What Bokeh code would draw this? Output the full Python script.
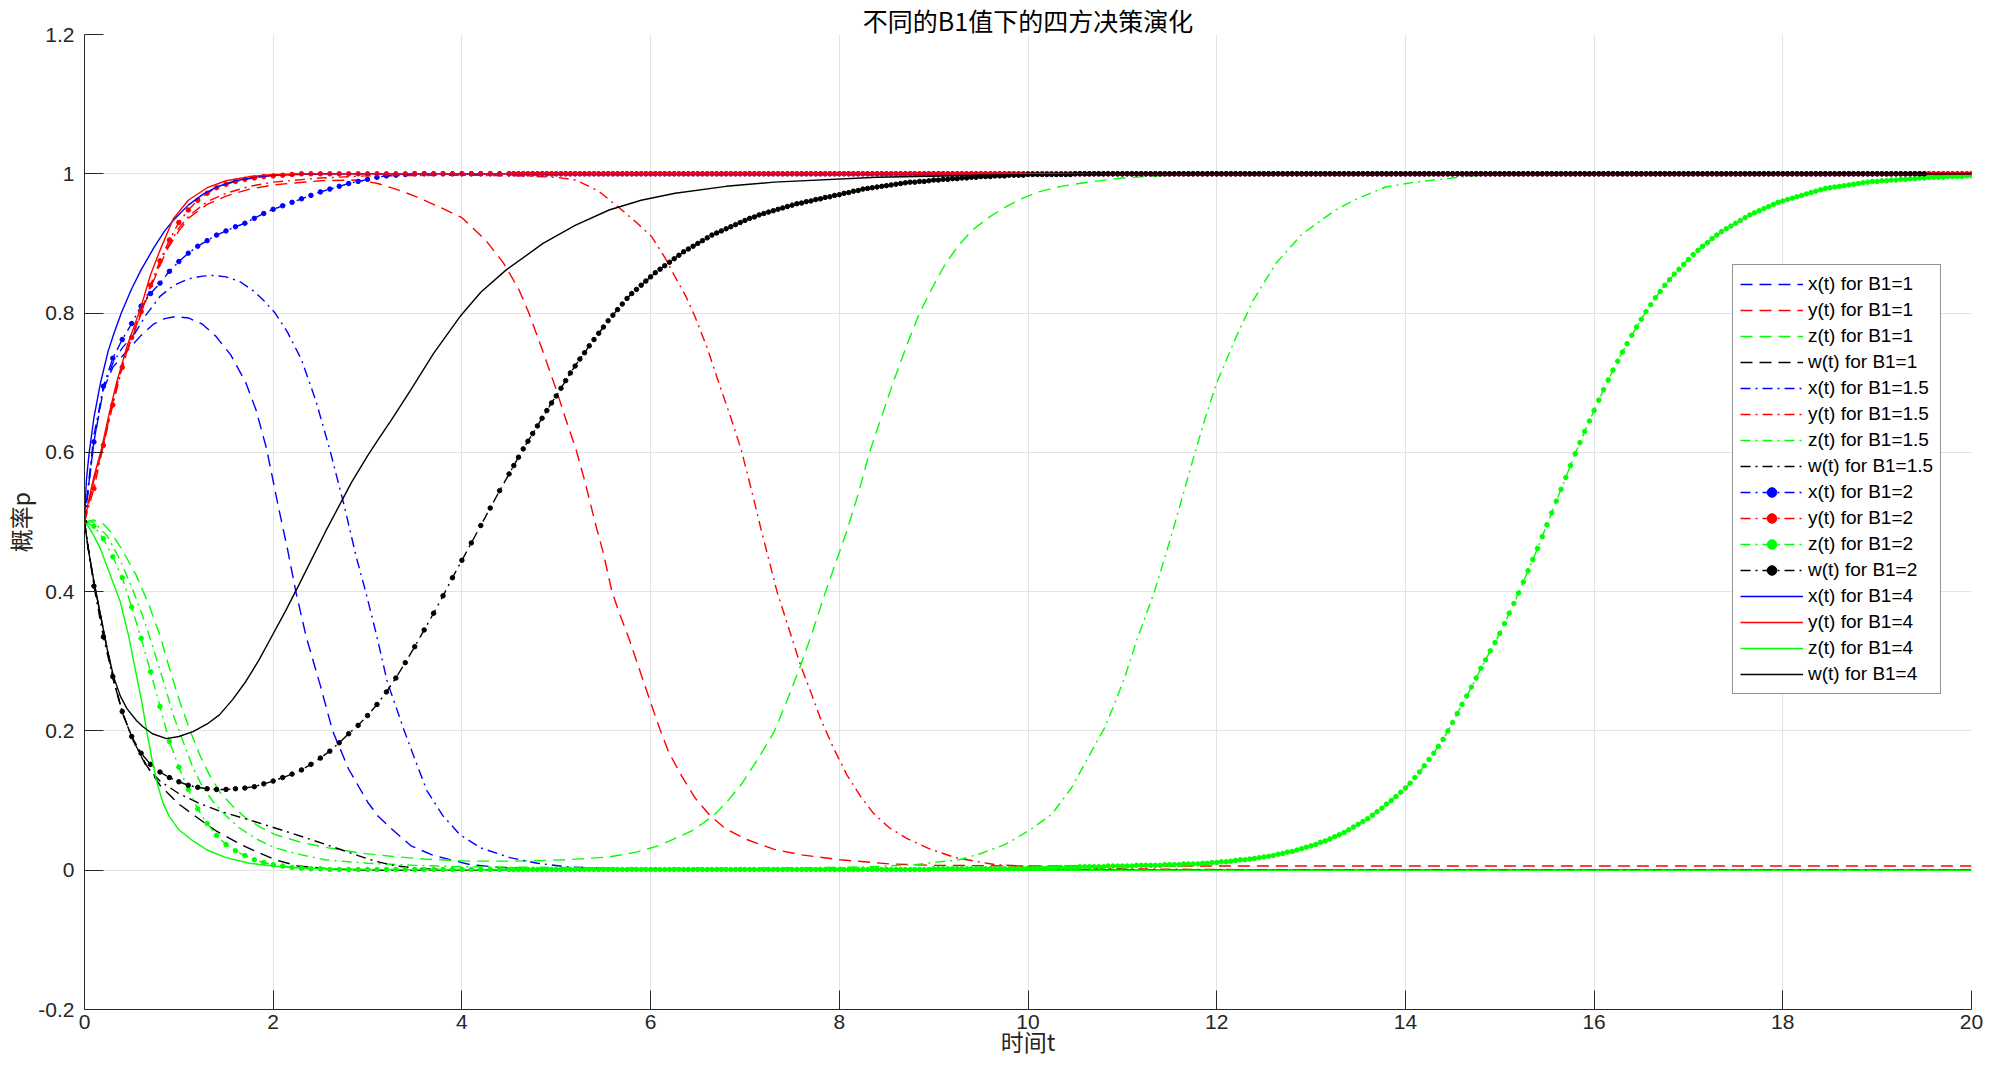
from bokeh.plotting import figure
from bokeh.models import Legend, LegendItem, FixedTicker
from bokeh.embed import file_html
from bokeh.resources import INLINE

TITLE = "不同的B1值下的四方决策演化"
XLABEL = "时间t"
YLABEL = "概率p"
X_TICKS = [0, 2, 4, 6, 8, 10, 12, 14, 16, 18, 20]
Y_TICKS = [-0.2, 0, 0.2, 0.4, 0.6, 0.8, 1.0, 1.2]
Y_TICK_LABELS = ["-0.2", "0", "0.2", "0.4", "0.6", "0.8", "1", "1.2"]

# ---------------- B1 = 1 (dashed) ----------------
T_X_B1_1 = [0, 0.05, 0.1, 0.2, 0.3, 0.4, 0.48, 0.6, 0.73, 0.85, 0.97, 1.1, 1.25, 1.39, 1.55, 1.71, 1.82, 1.93,
            2.05, 2.15, 2.24, 2.35, 2.5, 2.63, 2.8, 3.0, 3.11, 3.25, 3.46, 3.7, 3.91, 4.09, 4.4, 4.8, 5.3, 6.0, 20.0]
V_X_B1_1 = [0.5, 0.56, 0.615, 0.69, 0.722, 0.738, 0.750, 0.768, 0.784, 0.792, 0.795, 0.793, 0.784, 0.767, 0.740,
            0.700, 0.660, 0.605, 0.525, 0.462, 0.40, 0.335, 0.265, 0.20, 0.145, 0.098, 0.078, 0.060, 0.035, 0.021,
            0.014, 0.008, 0.004, 0.002, 0.001, 0.0, 0.0]

T_Y_B1_1 = [0, 0.05, 0.1, 0.18, 0.26, 0.34, 0.45, 0.59, 0.72, 0.87, 1.0, 1.11, 1.3, 1.5, 1.75, 2.0, 2.5, 2.9,
            3.11, 3.3, 3.5, 3.75, 4.0, 4.25, 4.44, 4.6, 4.71, 4.85, 5.0, 5.1, 5.21, 5.3, 5.42, 5.5, 5.59, 5.68,
            5.77, 5.89, 6.01, 6.1, 6.19, 6.33, 6.47, 6.62, 6.78, 7.0, 7.31, 7.6, 8.01, 8.53, 9.0, 10.0, 20.0]
V_Y_B1_1 = [0.5, 0.53, 0.56, 0.60, 0.648, 0.695, 0.745, 0.795, 0.843, 0.89, 0.918, 0.937, 0.956, 0.968, 0.978,
            0.984, 0.99, 0.991, 0.986, 0.978, 0.968, 0.953, 0.937, 0.905, 0.872, 0.835, 0.80, 0.748, 0.69, 0.648,
            0.604, 0.56, 0.495, 0.455, 0.40, 0.365, 0.333, 0.285, 0.237, 0.202, 0.17, 0.135, 0.104, 0.08, 0.061,
            0.045, 0.030, 0.022, 0.015, 0.009, 0.007, 0.006, 0.006]

T_Z_B1_1 = [0, 0.1, 0.2, 0.27, 0.4, 0.55, 0.68, 0.8, 0.9, 1.01, 1.12, 1.22, 1.32, 1.43, 1.57, 1.71, 1.86, 2.02,
            2.3, 2.55, 2.9, 3.25, 3.6, 4.1, 4.6, 5.1, 5.56, 5.85, 6.08, 6.25, 6.43, 6.55, 6.68, 6.82, 6.96, 7.13,
            7.31, 7.45, 7.59, 7.71, 7.83, 7.95, 8.08, 8.2, 8.32, 8.45, 8.57, 8.71, 8.85, 9.0, 9.13, 9.27, 9.41,
            9.58, 9.76, 9.93, 10.11, 10.35, 10.64, 11.0, 11.5, 12.5, 20.0]
V_Z_B1_1 = [0.5, 0.503, 0.497, 0.487, 0.46, 0.423, 0.382, 0.337, 0.29, 0.242, 0.20, 0.166, 0.138, 0.113, 0.092,
            0.075, 0.062, 0.051, 0.040, 0.033, 0.025, 0.020, 0.016, 0.013, 0.013, 0.015, 0.019, 0.026, 0.035,
            0.045, 0.056, 0.067, 0.08, 0.10, 0.123, 0.158, 0.199, 0.245, 0.294, 0.34, 0.39, 0.437, 0.487, 0.54,
            0.60, 0.652, 0.70, 0.752, 0.80, 0.84, 0.872, 0.898, 0.919, 0.937, 0.952, 0.964, 0.974, 0.982, 0.988,
            0.994, 0.998, 1.0, 1.0]

T_W_B1_1 = [0, 0.04, 0.1, 0.17, 0.24, 0.31, 0.41, 0.52, 0.66, 0.8, 1.0, 1.2, 1.4, 1.67, 1.85, 2.02, 2.26, 2.6,
            3.0, 20.0]
V_W_B1_1 = [0.5, 0.461, 0.414, 0.366, 0.318, 0.271, 0.223, 0.185, 0.150, 0.122, 0.095, 0.075, 0.056, 0.036,
            0.025, 0.015, 0.006, 0.002, 0.0, 0.0]

# ---------------- B1 = 1.5 (dash-dot) ----------------
T_X_B1_15 = [0, 0.05, 0.1, 0.2, 0.3, 0.4, 0.52, 0.65, 0.8, 0.95, 1.1, 1.25, 1.36, 1.5, 1.65, 1.8, 1.9, 2.02,
             2.15, 2.3, 2.45, 2.6, 2.75, 2.88, 2.98, 3.1, 3.21, 3.3, 3.39, 3.5, 3.63, 3.8, 3.98, 4.2, 4.51, 4.8,
             5.1, 5.6, 6.5, 10.0, 20.0]
V_X_B1_15 = [0.5, 0.565, 0.625, 0.692, 0.728, 0.750, 0.768, 0.797, 0.824, 0.840, 0.849, 0.853, 0.854, 0.852,
             0.845, 0.831, 0.818, 0.800, 0.773, 0.733, 0.675, 0.604, 0.525, 0.45, 0.40, 0.335, 0.27, 0.235, 0.20,
             0.16, 0.114, 0.078, 0.051, 0.032, 0.018, 0.010, 0.005, 0.002, 0.0, 0.0, 0.0]

T_Y_B1_15 = [0, 0.05, 0.1, 0.18, 0.26, 0.34, 0.45, 0.59, 0.72, 0.87, 1.0, 1.11, 1.3, 1.5, 1.75, 2.0, 2.5, 3.0,
             4.0, 4.6, 5.0, 5.21, 5.45, 5.66, 5.85, 6.01, 6.15, 6.26, 6.37, 6.47, 6.6, 6.71, 6.85, 6.96, 7.08,
             7.17, 7.34, 7.47, 7.59, 7.7, 7.8, 7.94, 8.08, 8.22, 8.36, 8.53, 8.71, 8.95, 9.23, 9.65, 10.2, 11.0,
             12.0, 14.0, 20.0]
V_Y_B1_15 = [0.5, 0.53, 0.56, 0.6, 0.648, 0.695, 0.746, 0.797, 0.845, 0.893, 0.922, 0.94, 0.96, 0.972, 0.982,
             0.988, 0.994, 0.997, 0.998, 0.997, 0.995, 0.991, 0.975, 0.952, 0.93, 0.91, 0.88, 0.852, 0.825, 0.795,
             0.75, 0.705, 0.65, 0.604, 0.54, 0.49, 0.40, 0.345, 0.294, 0.255, 0.218, 0.175, 0.137, 0.107, 0.082,
             0.061, 0.046, 0.031, 0.018, 0.008, 0.004, 0.002, 0.001, 0.0, 0.0]

T_Z_B1_15 = [0, 0.1, 0.24, 0.38, 0.52, 0.63, 0.73, 0.84, 0.94, 1.05, 1.15, 1.25, 1.36, 1.5, 1.64, 1.82, 2.02,
             2.3, 2.55, 3.0, 3.5, 4.0, 5.0, 6.0, 7.0, 8.0, 8.36, 8.8, 9.27, 9.5, 9.76, 10.0, 10.25, 10.46, 10.67,
             10.81, 10.92, 11.02, 11.16, 11.34, 11.51, 11.63, 11.76, 11.88, 12.0, 12.21, 12.39, 12.63, 12.91,
             13.26, 13.5, 13.79, 14.1, 14.7, 15.5, 20.0]
V_Z_B1_15 = [0.5, 0.5, 0.48, 0.445, 0.40, 0.36, 0.318, 0.27, 0.223, 0.183, 0.147, 0.12, 0.099, 0.078, 0.061,
             0.045, 0.032, 0.022, 0.015, 0.010, 0.007, 0.005, 0.004, 0.003, 0.003, 0.004, 0.005, 0.008, 0.015,
             0.024, 0.037, 0.056, 0.08, 0.118, 0.17, 0.204, 0.24, 0.275, 0.333, 0.40, 0.476, 0.533, 0.595, 0.65,
             0.70, 0.767, 0.819, 0.872, 0.914, 0.948, 0.965, 0.981, 0.988, 0.997, 1.0, 1.0]

T_W_B1_15 = [0, 0.04, 0.1, 0.17, 0.24, 0.31, 0.41, 0.52, 0.66, 0.8, 1.0, 1.2, 1.43, 1.8, 2.2, 2.6, 2.9, 3.08,
             3.3, 3.6, 4.0, 20.0]
V_W_B1_15 = [0.5, 0.461, 0.414, 0.366, 0.318, 0.271, 0.223, 0.185, 0.148, 0.128, 0.11, 0.097, 0.085, 0.070,
             0.053, 0.035, 0.021, 0.013, 0.006, 0.002, 0.0, 0.0]

# ---------------- B1 = 2 (dash-dot with dots; solver output: every 0.1 up to 4.5, then every 0.05) ----------------
T_B1_2 = [round(i * 0.1, 2) for i in range(46)] + [round(4.5 + i * 0.05, 2) for i in range(1, 311)]
V_X_B1_2 = [
    0.500, 0.615, 0.695, 0.735, 0.762, 0.785, 0.810, 0.828, 0.843, 0.860,
    0.874, 0.886, 0.896, 0.904, 0.912, 0.918, 0.924, 0.929, 0.936, 0.943,
    0.949, 0.954, 0.959, 0.964, 0.969, 0.974, 0.978, 0.982, 0.986, 0.989,
    0.992, 0.995, 0.997, 0.998, 0.999, 1.0, 1.0, 1.0, 1.0, 1.0,
    1.0, 1.0, 1.0, 1.0, 1.0, 1.0,
    1.0, 1.0, 1.0, 1.0, 1.0, 1.0, 1.0, 1.0, 1.0, 1.0,
    1.0, 1.0, 1.0, 1.0, 1.0, 1.0, 1.0, 1.0, 1.0, 1.0,
    1.0, 1.0, 1.0, 1.0, 1.0, 1.0, 1.0, 1.0, 1.0, 1.0,
    1.0, 1.0, 1.0, 1.0, 1.0, 1.0, 1.0, 1.0, 1.0, 1.0,
    1.0, 1.0, 1.0, 1.0, 1.0, 1.0, 1.0, 1.0, 1.0, 1.0,
    1.0, 1.0, 1.0, 1.0, 1.0, 1.0, 1.0, 1.0, 1.0, 1.0,
    1.0, 1.0, 1.0, 1.0, 1.0, 1.0, 1.0, 1.0, 1.0, 1.0,
    1.0, 1.0, 1.0, 1.0, 1.0, 1.0, 1.0, 1.0, 1.0, 1.0,
    1.0, 1.0, 1.0, 1.0, 1.0, 1.0, 1.0, 1.0, 1.0, 1.0,
    1.0, 1.0, 1.0, 1.0, 1.0, 1.0, 1.0, 1.0, 1.0, 1.0,
    1.0, 1.0, 1.0, 1.0, 1.0, 1.0, 1.0, 1.0, 1.0, 1.0,
    1.0, 1.0, 1.0, 1.0, 1.0, 1.0, 1.0, 1.0, 1.0, 1.0,
    1.0, 1.0, 1.0, 1.0, 1.0, 1.0, 1.0, 1.0, 1.0, 1.0,
    1.0, 1.0, 1.0, 1.0, 1.0, 1.0, 1.0, 1.0, 1.0, 1.0,
    1.0, 1.0, 1.0, 1.0, 1.0, 1.0, 1.0, 1.0, 1.0, 1.0,
    1.0, 1.0, 1.0, 1.0, 1.0, 1.0, 1.0, 1.0, 1.0, 1.0,
    1.0, 1.0, 1.0, 1.0, 1.0, 1.0, 1.0, 1.0, 1.0, 1.0,
    1.0, 1.0, 1.0, 1.0, 1.0, 1.0, 1.0, 1.0, 1.0, 1.0,
    1.0, 1.0, 1.0, 1.0, 1.0, 1.0, 1.0, 1.0, 1.0, 1.0,
    1.0, 1.0, 1.0, 1.0, 1.0, 1.0, 1.0, 1.0, 1.0, 1.0,
    1.0, 1.0, 1.0, 1.0, 1.0, 1.0, 1.0, 1.0, 1.0, 1.0,
    1.0, 1.0, 1.0, 1.0, 1.0, 1.0, 1.0, 1.0, 1.0, 1.0,
    1.0, 1.0, 1.0, 1.0, 1.0, 1.0, 1.0, 1.0, 1.0, 1.0,
    1.0, 1.0, 1.0, 1.0, 1.0, 1.0, 1.0, 1.0, 1.0, 1.0,
    1.0, 1.0, 1.0, 1.0, 1.0, 1.0, 1.0, 1.0, 1.0, 1.0,
    1.0, 1.0, 1.0, 1.0, 1.0, 1.0, 1.0, 1.0, 1.0, 1.0,
    1.0, 1.0, 1.0, 1.0, 1.0, 1.0, 1.0, 1.0, 1.0, 1.0,
    1.0, 1.0, 1.0, 1.0, 1.0, 1.0, 1.0, 1.0, 1.0, 1.0,
    1.0, 1.0, 1.0, 1.0, 1.0, 1.0, 1.0, 1.0, 1.0, 1.0,
    1.0, 1.0, 1.0, 1.0, 1.0, 1.0, 1.0, 1.0, 1.0, 1.0,
    1.0, 1.0, 1.0, 1.0, 1.0, 1.0, 1.0, 1.0, 1.0, 1.0]
V_Y_B1_2 = [
    0.500, 0.548, 0.610, 0.668, 0.722, 0.765, 0.802, 0.840, 0.875, 0.905,
    0.930, 0.948, 0.962, 0.972, 0.980, 0.985, 0.989, 0.992, 0.994, 0.996,
    0.997, 0.998, 0.999, 1.0, 1.0, 1.0, 1.0, 1.0, 1.0, 1.0,
    1.0, 1.0, 1.0, 1.0, 1.0, 1.0, 1.0, 1.0, 1.0, 1.0,
    1.0, 1.0, 1.0, 1.0, 1.0, 1.0,
    1.0, 1.0, 1.0, 1.0, 1.0, 1.0, 1.0, 1.0, 1.0, 1.0,
    1.0, 1.0, 1.0, 1.0, 1.0, 1.0, 1.0, 1.0, 1.0, 1.0,
    1.0, 1.0, 1.0, 1.0, 1.0, 1.0, 1.0, 1.0, 1.0, 1.0,
    1.0, 1.0, 1.0, 1.0, 1.0, 1.0, 1.0, 1.0, 1.0, 1.0,
    1.0, 1.0, 1.0, 1.0, 1.0, 1.0, 1.0, 1.0, 1.0, 1.0,
    1.0, 1.0, 1.0, 1.0, 1.0, 1.0, 1.0, 1.0, 1.0, 1.0,
    1.0, 1.0, 1.0, 1.0, 1.0, 1.0, 1.0, 1.0, 1.0, 1.0,
    1.0, 1.0, 1.0, 1.0, 1.0, 1.0, 1.0, 1.0, 1.0, 1.0,
    1.0, 1.0, 1.0, 1.0, 1.0, 1.0, 1.0, 1.0, 1.0, 1.0,
    1.0, 1.0, 1.0, 1.0, 1.0, 1.0, 1.0, 1.0, 1.0, 1.0,
    1.0, 1.0, 1.0, 1.0, 1.0, 1.0, 1.0, 1.0, 1.0, 1.0,
    1.0, 1.0, 1.0, 1.0, 1.0, 1.0, 1.0, 1.0, 1.0, 1.0,
    1.0, 1.0, 1.0, 1.0, 1.0, 1.0, 1.0, 1.0, 1.0, 1.0,
    1.0, 1.0, 1.0, 1.0, 1.0, 1.0, 1.0, 1.0, 1.0, 1.0,
    1.0, 1.0, 1.0, 1.0, 1.0, 1.0, 1.0, 1.0, 1.0, 1.0,
    1.0, 1.0, 1.0, 1.0, 1.0, 1.0, 1.0, 1.0, 1.0, 1.0,
    1.0, 1.0, 1.0, 1.0, 1.0, 1.0, 1.0, 1.0, 1.0, 1.0,
    1.0, 1.0, 1.0, 1.0, 1.0, 1.0, 1.0, 1.0, 1.0, 1.0,
    1.0, 1.0, 1.0, 1.0, 1.0, 1.0, 1.0, 1.0, 1.0, 1.0,
    1.0, 1.0, 1.0, 1.0, 1.0, 1.0, 1.0, 1.0, 1.0, 1.0,
    1.0, 1.0, 1.0, 1.0, 1.0, 1.0, 1.0, 1.0, 1.0, 1.0,
    1.0, 1.0, 1.0, 1.0, 1.0, 1.0, 1.0, 1.0, 1.0, 1.0,
    1.0, 1.0, 1.0, 1.0, 1.0, 1.0, 1.0, 1.0, 1.0, 1.0,
    1.0, 1.0, 1.0, 1.0, 1.0, 1.0, 1.0, 1.0, 1.0, 1.0,
    1.0, 1.0, 1.0, 1.0, 1.0, 1.0, 1.0, 1.0, 1.0, 1.0,
    1.0, 1.0, 1.0, 1.0, 1.0, 1.0, 1.0, 1.0, 1.0, 1.0,
    1.0, 1.0, 1.0, 1.0, 1.0, 1.0, 1.0, 1.0, 1.0, 1.0,
    1.0, 1.0, 1.0, 1.0, 1.0, 1.0, 1.0, 1.0, 1.0, 1.0,
    1.0, 1.0, 1.0, 1.0, 1.0, 1.0, 1.0, 1.0, 1.0, 1.0,
    1.0, 1.0, 1.0, 1.0, 1.0, 1.0, 1.0, 1.0, 1.0, 1.0,
    1.0, 1.0, 1.0, 1.0, 1.0, 1.0, 1.0, 1.0, 1.0, 1.0]
V_Z_B1_2 = [
    0.500, 0.494, 0.476, 0.450, 0.420, 0.378, 0.333, 0.285, 0.235, 0.185,
    0.148, 0.116, 0.088, 0.067, 0.050, 0.037, 0.028, 0.021, 0.015, 0.011,
    0.008, 0.006, 0.004, 0.003, 0.002, 0.002, 0.001, 0.001, 0.001, 0.001,
    0.001, 0.001, 0.001, 0.001, 0.001, 0.001, 0.001, 0.001, 0.001, 0.001,
    0.001, 0.001, 0.001, 0.001, 0.001, 0.001,
    0.001, 0.001, 0.001, 0.001, 0.001, 0.001, 0.001, 0.001, 0.001,
    0.001, 0.001, 0.001, 0.001, 0.001, 0.001, 0.001, 0.001, 0.001, 0.001,
    0.001, 0.001, 0.001, 0.001, 0.001, 0.001, 0.001, 0.001, 0.001, 0.001,
    0.001, 0.001, 0.001, 0.001, 0.001, 0.001, 0.001, 0.001, 0.001, 0.001,
    0.001, 0.001, 0.001, 0.001, 0.001, 0.001, 0.001, 0.001, 0.001, 0.001,
    0.001, 0.001, 0.001, 0.001, 0.001, 0.001, 0.001, 0.001, 0.001, 0.001,
    0.001, 0.001, 0.001, 0.001, 0.001, 0.001, 0.001, 0.001, 0.001, 0.001,
    0.001, 0.001, 0.001, 0.001, 0.001, 0.001, 0.001, 0.001, 0.001, 0.001,
    0.001, 0.001, 0.001, 0.001, 0.001, 0.001, 0.001, 0.001, 0.001, 0.001,
    0.002, 0.002, 0.002, 0.002, 0.002, 0.002, 0.002, 0.002, 0.002, 0.002,
    0.002, 0.002, 0.002, 0.002, 0.002, 0.002, 0.002, 0.002, 0.002, 0.002,
    0.003, 0.003, 0.003, 0.003, 0.003, 0.004, 0.004, 0.004, 0.004, 0.004,
    0.004, 0.005, 0.005, 0.005, 0.005, 0.005, 0.005, 0.006, 0.006, 0.006,
    0.006, 0.006, 0.006, 0.007, 0.007, 0.007, 0.007, 0.007, 0.007, 0.008,
    0.008, 0.008, 0.008, 0.009, 0.009, 0.009, 0.009, 0.010, 0.010, 0.011,
    0.011, 0.012, 0.012, 0.013, 0.014, 0.015, 0.015, 0.016, 0.017, 0.018,
    0.019, 0.020, 0.021, 0.023, 0.024, 0.026, 0.027, 0.029, 0.031, 0.033,
    0.035, 0.037, 0.040, 0.042, 0.045, 0.048, 0.051, 0.054, 0.058, 0.062,
    0.066, 0.070, 0.074, 0.079, 0.084, 0.089, 0.095, 0.100, 0.106, 0.112,
    0.118, 0.125, 0.133, 0.141, 0.150, 0.159, 0.168, 0.178, 0.188, 0.200,
    0.212, 0.225, 0.238, 0.250, 0.263, 0.276, 0.290, 0.302, 0.315, 0.327,
    0.340, 0.354, 0.369, 0.383, 0.398, 0.414, 0.430, 0.446, 0.462, 0.479,
    0.496, 0.513, 0.530, 0.547, 0.564, 0.581, 0.598, 0.614, 0.630, 0.645,
    0.660, 0.675, 0.690, 0.704, 0.718, 0.731, 0.744, 0.756, 0.768, 0.780,
    0.791, 0.802, 0.812, 0.822, 0.831, 0.840, 0.848, 0.856, 0.863, 0.870,
    0.877, 0.884, 0.890, 0.896, 0.901, 0.907, 0.912, 0.917, 0.921, 0.925,
    0.929, 0.933, 0.937, 0.941, 0.944, 0.947, 0.950, 0.953, 0.956, 0.959,
    0.961, 0.963, 0.965, 0.967, 0.969, 0.971, 0.973, 0.975, 0.977, 0.979,
    0.980, 0.981, 0.982, 0.983, 0.984, 0.985, 0.986, 0.987, 0.988, 0.989,
    0.989, 0.990, 0.990, 0.991, 0.991, 0.992, 0.992, 0.993, 0.993, 0.994,
    0.994, 0.995, 0.995, 0.995, 0.995, 0.996, 0.996, 0.996, 0.996, 0.997,
    0.997]
V_W_B1_2 = [
    0.500, 0.408, 0.335, 0.278, 0.228, 0.192, 0.168, 0.152, 0.141, 0.133,
    0.127, 0.122, 0.119, 0.117, 0.116, 0.116, 0.117, 0.118, 0.120, 0.124,
    0.128, 0.133, 0.138, 0.144, 0.152, 0.161, 0.171, 0.183, 0.196, 0.208,
    0.222, 0.238, 0.256, 0.276, 0.298, 0.321, 0.345, 0.369, 0.394, 0.420,
    0.445, 0.470, 0.495, 0.520, 0.545, 0.569,
    0.581, 0.593, 0.605, 0.616, 0.627, 0.638, 0.649, 0.660, 0.671,
    0.681, 0.692, 0.703, 0.714, 0.724, 0.734, 0.743, 0.753, 0.762, 0.771,
    0.780, 0.789, 0.797, 0.805, 0.813, 0.821, 0.828, 0.834, 0.840, 0.846,
    0.852, 0.858, 0.863, 0.868, 0.873, 0.878, 0.883, 0.888, 0.892, 0.896,
    0.900, 0.904, 0.908, 0.912, 0.915, 0.918, 0.921, 0.924, 0.927, 0.930,
    0.933, 0.936, 0.938, 0.941, 0.943, 0.945, 0.947, 0.949, 0.951, 0.953,
    0.955, 0.957, 0.958, 0.960, 0.961, 0.963, 0.964, 0.966, 0.967, 0.969,
    0.970, 0.972, 0.973, 0.975, 0.976, 0.978, 0.979, 0.980, 0.981, 0.982,
    0.983, 0.984, 0.985, 0.986, 0.987, 0.988, 0.988, 0.989, 0.989, 0.990,
    0.991, 0.991, 0.992, 0.992, 0.993, 0.993, 0.994, 0.994, 0.995, 0.995,
    0.996, 0.996, 0.996, 0.997, 0.997, 0.997, 0.998, 0.998, 0.998, 0.998,
    0.999, 0.999, 0.999, 0.999, 0.999, 0.999, 0.999, 0.999, 0.999, 0.999,
    1.0, 1.0, 1.0, 1.0, 1.0, 1.0, 1.0, 1.0, 1.0, 1.0,
    1.0, 1.0, 1.0, 1.0, 1.0, 1.0, 1.0, 1.0, 1.0, 1.0,
    1.0, 1.0, 1.0, 1.0, 1.0, 1.0, 1.0, 1.0, 1.0, 1.0,
    1.0, 1.0, 1.0, 1.0, 1.0, 1.0, 1.0, 1.0, 1.0, 1.0,
    1.0, 1.0, 1.0, 1.0, 1.0, 1.0, 1.0, 1.0, 1.0, 1.0,
    1.0, 1.0, 1.0, 1.0, 1.0, 1.0, 1.0, 1.0, 1.0, 1.0,
    1.0, 1.0, 1.0, 1.0, 1.0, 1.0, 1.0, 1.0, 1.0, 1.0,
    1.0, 1.0, 1.0, 1.0, 1.0, 1.0, 1.0, 1.0, 1.0, 1.0,
    1.0, 1.0, 1.0, 1.0, 1.0, 1.0, 1.0, 1.0, 1.0, 1.0,
    1.0, 1.0, 1.0, 1.0, 1.0, 1.0, 1.0, 1.0, 1.0, 1.0,
    1.0, 1.0, 1.0, 1.0, 1.0, 1.0, 1.0, 1.0, 1.0, 1.0,
    1.0, 1.0, 1.0, 1.0, 1.0, 1.0, 1.0, 1.0, 1.0, 1.0,
    1.0, 1.0, 1.0, 1.0, 1.0, 1.0, 1.0, 1.0, 1.0, 1.0,
    1.0, 1.0, 1.0, 1.0, 1.0, 1.0, 1.0, 1.0, 1.0, 1.0,
    1.0, 1.0, 1.0, 1.0, 1.0, 1.0, 1.0, 1.0, 1.0, 1.0,
    1.0, 1.0, 1.0, 1.0, 1.0, 1.0, 1.0, 1.0, 1.0, 1.0,
    1.0, 1.0, 1.0, 1.0, 1.0, 1.0, 1.0, 1.0, 1.0, 1.0,
    1.0, 1.0, 1.0, 1.0, 1.0, 1.0, 1.0, 1.0, 1.0, 1.0,
    1.0]

# ---------------- B1 = 4 (solid) ----------------
T_X_B1_4 = [0, 0.02, 0.05, 0.1, 0.17, 0.25, 0.31, 0.39, 0.5, 0.6, 0.74, 0.85, 0.94, 1.1, 1.25, 1.4, 1.6, 1.8,
            2.0, 2.5, 20.0]
V_X_B1_4 = [0.5, 0.56, 0.60, 0.65, 0.70, 0.745, 0.77, 0.80, 0.835, 0.862, 0.895, 0.918, 0.933, 0.955, 0.970,
            0.981, 0.990, 0.995, 0.998, 1.0, 1.0]

T_Y_B1_4 = [0, 0.05, 0.1, 0.18, 0.26, 0.34, 0.45, 0.59, 0.7, 0.8, 0.94, 1.1, 1.3, 1.5, 1.75, 2.0, 2.5, 20.0]
V_Y_B1_4 = [0.5, 0.535, 0.565, 0.605, 0.655, 0.70, 0.752, 0.805, 0.855, 0.89, 0.935, 0.962, 0.98, 0.99, 0.996,
            0.999, 1.0, 1.0]

T_Z_B1_4 = [0, 0.05, 0.1, 0.17, 0.27, 0.38, 0.47, 0.55, 0.61, 0.66, 0.71, 0.76, 0.83, 0.9, 1.0, 1.15, 1.3, 1.5,
            1.75, 1.99, 2.3, 3.0, 5.0, 20.0]
V_Z_B1_4 = [0.5, 0.492, 0.48, 0.461, 0.425, 0.385, 0.335, 0.28, 0.24, 0.199, 0.163, 0.13, 0.097, 0.077, 0.058,
            0.042, 0.029, 0.018, 0.010, 0.006, 0.003, 0.001, 0.0, 0.0]

T_W_B1_4 = [0, 0.04, 0.1, 0.17, 0.24, 0.31, 0.38, 0.45, 0.55, 0.62, 0.72, 0.87, 1.0, 1.15, 1.3, 1.43, 1.57, 1.71,
            1.85, 1.99, 2.13, 2.27, 2.41, 2.55, 2.69, 2.83, 3.0, 3.11, 3.25, 3.46, 3.7, 3.98, 4.2, 4.47, 4.86, 5.2,
            5.56, 5.9, 6.26, 6.8, 7.31, 8.4, 9.5, 11.0, 20.0]
V_W_B1_4 = [0.5, 0.461, 0.414, 0.366, 0.318, 0.277, 0.250, 0.232, 0.215, 0.206, 0.196, 0.189, 0.192, 0.199, 0.21,
            0.223, 0.245, 0.271, 0.302, 0.337, 0.372, 0.409, 0.447, 0.485, 0.521, 0.557, 0.595, 0.618, 0.646, 0.69,
            0.742, 0.795, 0.83, 0.862, 0.90, 0.926, 0.948, 0.962, 0.972, 0.982, 0.988, 0.995, 0.998, 1.0, 1.0]

COLORS = {"x": "#0000FF", "y": "#FF0000", "z": "#00FF00", "w": "#000000"}
DASHES = {"1": "12 7", "1.5": "10 5 2 5", "2": "10 5 2 5", "4": "solid"}

SERIES = [
    ("1", "x", T_X_B1_1, V_X_B1_1), ("1", "y", T_Y_B1_1, V_Y_B1_1),
    ("1", "z", T_Z_B1_1, V_Z_B1_1), ("1", "w", T_W_B1_1, V_W_B1_1),
    ("1.5", "x", T_X_B1_15, V_X_B1_15), ("1.5", "y", T_Y_B1_15, V_Y_B1_15),
    ("1.5", "z", T_Z_B1_15, V_Z_B1_15), ("1.5", "w", T_W_B1_15, V_W_B1_15),
    ("2", "x", T_B1_2, V_X_B1_2), ("2", "y", T_B1_2, V_Y_B1_2),
    ("2", "z", T_B1_2, V_Z_B1_2), ("2", "w", T_B1_2, V_W_B1_2),
    ("4", "x", T_X_B1_4, V_X_B1_4), ("4", "y", T_Y_B1_4, V_Y_B1_4),
    ("4", "z", T_Z_B1_4, V_Z_B1_4), ("4", "w", T_W_B1_4, V_W_B1_4),
]

W, H = 1984, 1060
BORDER_L, BORDER_R, BORDER_T, BORDER_B = 84, 13, 34, 51
p = figure(width=W, height=H, output_backend="svg", toolbar_location=None,
           x_range=(0, 20), y_range=(-0.2, 1.2),
           min_border_left=BORDER_L, min_border_right=BORDER_R,
           min_border_top=BORDER_T, min_border_bottom=BORDER_B)
p.background_fill_color = "white"
p.border_fill_color = "white"
p.outline_line_color = None

CJK = "Noto Sans CJK SC"
p.title.text = TITLE
p.title.align = "center"
p.title.text_font = CJK
p.title.text_font_size = "25px"
p.title.text_font_style = "normal"
p.title.text_color = "#000000"
p.title.standoff = -6

AX_COLOR = "#262626"
for ax in (p.xaxis[0], p.yaxis[0]):
    ax.axis_line_color = AX_COLOR
    ax.axis_line_width = 1
    ax.major_tick_line_color = AX_COLOR
    ax.major_tick_in = 19
    ax.major_tick_out = 0
    ax.minor_tick_in = 0
    ax.minor_tick_out = 0
    ax.major_label_text_font = "Liberation Sans"
    ax.major_label_text_font_size = "21px"
    ax.major_label_text_color = AX_COLOR
    ax.axis_label_text_font = CJK
    ax.axis_label_text_font_size = "23px"
    ax.axis_label_text_font_style = "normal"
    ax.axis_label_text_color = AX_COLOR

p.xaxis.ticker = FixedTicker(ticks=X_TICKS)
p.yaxis.ticker = FixedTicker(ticks=Y_TICKS)
p.yaxis.major_label_overrides = {v: s for v, s in zip(Y_TICKS, Y_TICK_LABELS)}
p.xaxis.axis_label = XLABEL
p.yaxis.axis_label = YLABEL
p.xaxis.major_label_standoff = 5
p.xaxis.axis_label_standoff = -8
p.yaxis.major_label_standoff = 10
p.yaxis.axis_label_standoff = -2

p.xgrid.ticker = FixedTicker(ticks=X_TICKS)
p.ygrid.ticker = FixedTicker(ticks=Y_TICKS)
for g in (p.xgrid[0], p.ygrid[0]):
    g.grid_line_color = "#e3e3e3"
    g.grid_line_width = 1

items = []
for b1, who, ts, vs in SERIES:
    n = min(len(ts), len(vs))
    ts, vs = ts[:n], vs[:n]
    color = COLORS[who]
    rs = [p.line(ts, vs, line_color=color, line_width=1.4, line_dash=DASHES[b1])]
    if b1 == "2":
        rs.append(p.scatter(ts, vs, marker="circle", size=4.5, fill_color=color, line_color=color))
    items.append(LegendItem(label=f"{who}(t) for B1={b1}", renderers=rs))

# legend box: left edge 1732 px, bottom edge 694 px in the picture
legend = Legend(items=items, location=(1732 - BORDER_L, (H - BORDER_B) - 694))
legend.label_text_font = "Liberation Sans"
legend.label_text_font_size = "19px"
legend.label_text_color = "#000000"
legend.glyph_width = 63
legend.glyph_height = 24
legend.label_height = 24
legend.label_standoff = 5
legend.spacing = 2
legend.padding = 7
legend.margin = 0
legend.border_line_color = AX_COLOR
legend.border_line_width = 1
legend.background_fill_color = "white"
legend.background_fill_alpha = 1.0
p.add_layout(legend)

open("out.html", "w").write(file_html(p, INLINE))
